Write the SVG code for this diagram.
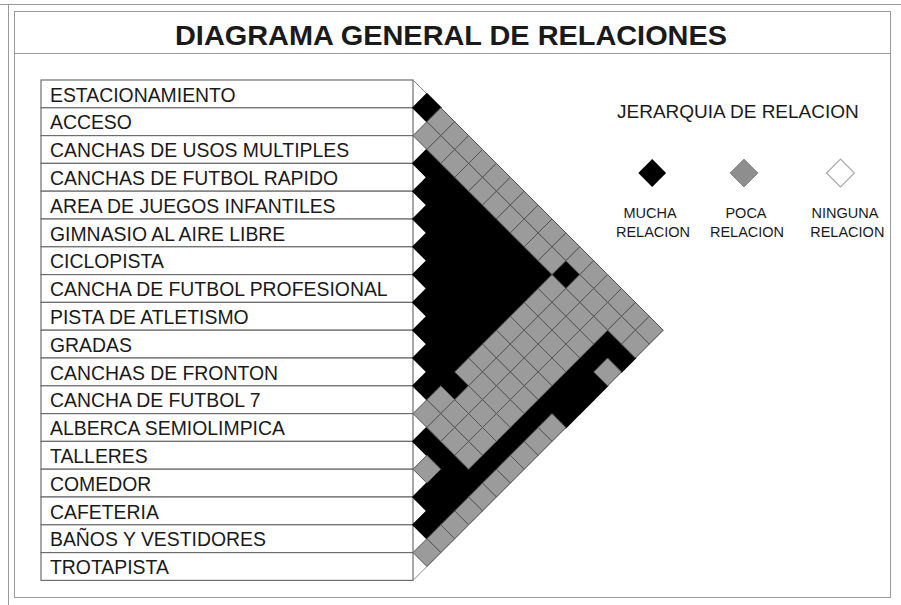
<svg xmlns="http://www.w3.org/2000/svg" xmlns:xlink="http://www.w3.org/1999/xlink" width="901" height="605" viewBox="0 0 901 605">
<style>
.t{font-family:"Liberation Sans",Arial,sans-serif;fill:#1a1a1a}
.lab{font-size:19.4px}
.row{fill:#fff;stroke:#6e6e6e;stroke-width:1.2}
.b{fill:#000;stroke:#000;stroke-width:1.6}
.g{fill:#9b9b9b;stroke:#555;stroke-width:1}
.leg{font-size:14.5px;text-anchor:middle}
</style>
<defs>
<path id="c" d="M-13.9,0L0,-13.9L13.9,0L0,13.9Z"/>
</defs>
<rect width="901" height="605" fill="#fff"/>
<g id="frame" fill="none" stroke="#9a9a9a" stroke-width="1">
<path d="M0,4.5H901M8.5,4.5V605"/>
<rect x="14.5" y="11.5" width="876" height="586"/>
<path d="M14.5,53.5H890.5"/>
</g>
<text id="title" class="t" x="451" y="45" font-size="28.5" font-weight="bold" text-anchor="middle" textLength="552" lengthAdjust="spacingAndGlyphs" fill="#000">DIAGRAMA GENERAL DE RELACIONES</text>
<g id="rows">
<g id="r0"><rect class="row" x="41" y="80" width="372" height="27.8"/><text class="t lab" x="50" y="101.5">ESTACIONAMIENTO</text></g>
<g id="r1"><rect class="row" x="41" y="107.8" width="372" height="27.8"/><text class="t lab" x="50" y="129.3">ACCESO</text></g>
<g id="r2"><rect class="row" x="41" y="135.6" width="372" height="27.8"/><text class="t lab" x="50" y="157.1">CANCHAS DE USOS MULTIPLES</text></g>
<g id="r3"><rect class="row" x="41" y="163.4" width="372" height="27.8"/><text class="t lab" x="50" y="184.9">CANCHAS DE FUTBOL RAPIDO</text></g>
<g id="r4"><rect class="row" x="41" y="191.2" width="372" height="27.8"/><text class="t lab" x="50" y="212.7">AREA DE JUEGOS INFANTILES</text></g>
<g id="r5"><rect class="row" x="41" y="219" width="372" height="27.8"/><text class="t lab" x="50" y="240.5">GIMNASIO AL AIRE LIBRE</text></g>
<g id="r6"><rect class="row" x="41" y="246.8" width="372" height="27.8"/><text class="t lab" x="50" y="268.3">CICLOPISTA</text></g>
<g id="r7"><rect class="row" x="41" y="274.6" width="372" height="27.8"/><text class="t lab" x="50" y="296.1">CANCHA DE FUTBOL PROFESIONAL</text></g>
<g id="r8"><rect class="row" x="41" y="302.4" width="372" height="27.8"/><text class="t lab" x="50" y="323.9">PISTA DE ATLETISMO</text></g>
<g id="r9"><rect class="row" x="41" y="330.2" width="372" height="27.8"/><text class="t lab" x="50" y="351.7">GRADAS</text></g>
<g id="r10"><rect class="row" x="41" y="358" width="372" height="27.8"/><text class="t lab" x="50" y="379.5">CANCHAS DE FRONTON</text></g>
<g id="r11"><rect class="row" x="41" y="385.8" width="372" height="27.8"/><text class="t lab" x="50" y="407.3">CANCHA DE FUTBOL 7</text></g>
<g id="r12"><rect class="row" x="41" y="413.6" width="372" height="27.8"/><text class="t lab" x="50" y="435.1">ALBERCA SEMIOLIMPICA</text></g>
<g id="r13"><rect class="row" x="41" y="441.4" width="372" height="27.8"/><text class="t lab" x="50" y="462.9">TALLERES</text></g>
<g id="r14"><rect class="row" x="41" y="469.2" width="372" height="27.8"/><text class="t lab" x="50" y="490.7">COMEDOR</text></g>
<g id="r15"><rect class="row" x="41" y="497" width="372" height="27.8"/><text class="t lab" x="50" y="518.5">CAFETERIA</text></g>
<g id="r16"><rect class="row" x="41" y="524.8" width="372" height="27.8"/><text class="t lab" x="50" y="546.3">BAÑOS Y VESTIDORES</text></g>
<g id="r17"><rect class="row" x="41" y="552.6" width="372" height="27.8"/><text class="t lab" x="50" y="574.1">TROTAPISTA</text></g>
</g>
<g id="matrix">
<path d="M413,80L663.2,330.2L413,580.4" fill="none" stroke="#8a8a8a" stroke-width="1"/>
<g id="black">
<use xlink:href="#c" class="b" x="426.9" y="107.8"/>
<use xlink:href="#c" class="b" x="565.9" y="274.6"/>
<use xlink:href="#c" class="b" x="426.9" y="163.4"/><use xlink:href="#c" class="b" x="440.8" y="177.3"/><use xlink:href="#c" class="b" x="454.7" y="191.2"/><use xlink:href="#c" class="b" x="468.6" y="205.1"/><use xlink:href="#c" class="b" x="482.5" y="219"/><use xlink:href="#c" class="b" x="496.4" y="232.9"/><use xlink:href="#c" class="b" x="510.3" y="246.8"/><use xlink:href="#c" class="b" x="524.2" y="260.7"/><use xlink:href="#c" class="b" x="538.1" y="274.6"/>
<use xlink:href="#c" class="b" x="426.9" y="191.2"/><use xlink:href="#c" class="b" x="440.8" y="205.1"/><use xlink:href="#c" class="b" x="454.7" y="219"/><use xlink:href="#c" class="b" x="468.6" y="232.9"/><use xlink:href="#c" class="b" x="482.5" y="246.8"/><use xlink:href="#c" class="b" x="496.4" y="260.7"/><use xlink:href="#c" class="b" x="510.3" y="274.6"/><use xlink:href="#c" class="b" x="524.2" y="288.5"/>
<use xlink:href="#c" class="b" x="426.9" y="219"/><use xlink:href="#c" class="b" x="440.8" y="232.9"/><use xlink:href="#c" class="b" x="454.7" y="246.8"/><use xlink:href="#c" class="b" x="468.6" y="260.7"/><use xlink:href="#c" class="b" x="482.5" y="274.6"/><use xlink:href="#c" class="b" x="496.4" y="288.5"/><use xlink:href="#c" class="b" x="510.3" y="302.4"/>
<use xlink:href="#c" class="b" x="426.9" y="246.8"/><use xlink:href="#c" class="b" x="440.8" y="260.7"/><use xlink:href="#c" class="b" x="454.7" y="274.6"/><use xlink:href="#c" class="b" x="468.6" y="288.5"/><use xlink:href="#c" class="b" x="482.5" y="302.4"/><use xlink:href="#c" class="b" x="496.4" y="316.3"/>
<use xlink:href="#c" class="b" x="426.9" y="274.6"/><use xlink:href="#c" class="b" x="440.8" y="288.5"/><use xlink:href="#c" class="b" x="454.7" y="302.4"/><use xlink:href="#c" class="b" x="468.6" y="316.3"/><use xlink:href="#c" class="b" x="482.5" y="330.2"/>
<use xlink:href="#c" class="b" x="426.9" y="302.4"/><use xlink:href="#c" class="b" x="440.8" y="316.3"/><use xlink:href="#c" class="b" x="454.7" y="330.2"/><use xlink:href="#c" class="b" x="468.6" y="344.1"/>
<use xlink:href="#c" class="b" x="426.9" y="330.2"/><use xlink:href="#c" class="b" x="440.8" y="344.1"/><use xlink:href="#c" class="b" x="454.7" y="358"/>
<use xlink:href="#c" class="b" x="426.9" y="358"/><use xlink:href="#c" class="b" x="440.8" y="371.9"/><use xlink:href="#c" class="b" x="454.7" y="385.8"/>
<use xlink:href="#c" class="b" x="426.9" y="385.8"/>
<use xlink:href="#c" class="b" x="607.6" y="344.1"/><use xlink:href="#c" class="b" x="621.5" y="358"/><use xlink:href="#c" class="b" x="593.7" y="358"/><use xlink:href="#c" class="b" x="579.8" y="371.9"/><use xlink:href="#c" class="b" x="593.7" y="385.8"/><use xlink:href="#c" class="b" x="565.9" y="385.8"/><use xlink:href="#c" class="b" x="579.8" y="399.7"/><use xlink:href="#c" class="b" x="552" y="399.7"/><use xlink:href="#c" class="b" x="565.9" y="413.6"/><use xlink:href="#c" class="b" x="538.1" y="413.6"/><use xlink:href="#c" class="b" x="524.2" y="427.5"/><use xlink:href="#c" class="b" x="510.3" y="441.4"/><use xlink:href="#c" class="b" x="496.4" y="455.3"/><use xlink:href="#c" class="b" x="482.5" y="469.2"/>
<use xlink:href="#c" class="b" x="426.9" y="441.4"/><use xlink:href="#c" class="b" x="440.8" y="455.3"/><use xlink:href="#c" class="b" x="454.7" y="469.2"/><use xlink:href="#c" class="b" x="468.6" y="483.1"/>
<use xlink:href="#c" class="b" x="440.8" y="483.1"/><use xlink:href="#c" class="b" x="454.7" y="497"/>
<use xlink:href="#c" class="b" x="426.9" y="497"/><use xlink:href="#c" class="b" x="440.8" y="510.9"/>
<use xlink:href="#c" class="b" x="426.9" y="524.8"/>
</g>
<g id="gray">
<use xlink:href="#c" class="g" x="440.8" y="121.7"/><use xlink:href="#c" class="g" x="454.7" y="135.6"/><use xlink:href="#c" class="g" x="468.6" y="149.5"/><use xlink:href="#c" class="g" x="482.5" y="163.4"/><use xlink:href="#c" class="g" x="496.4" y="177.3"/><use xlink:href="#c" class="g" x="510.3" y="191.2"/><use xlink:href="#c" class="g" x="524.2" y="205.1"/><use xlink:href="#c" class="g" x="538.1" y="219"/><use xlink:href="#c" class="g" x="552" y="232.9"/><use xlink:href="#c" class="g" x="565.9" y="246.8"/><use xlink:href="#c" class="g" x="579.8" y="260.7"/><use xlink:href="#c" class="g" x="593.7" y="274.6"/><use xlink:href="#c" class="g" x="607.6" y="288.5"/><use xlink:href="#c" class="g" x="621.5" y="302.4"/><use xlink:href="#c" class="g" x="635.4" y="316.3"/><use xlink:href="#c" class="g" x="649.3" y="330.2"/>
<use xlink:href="#c" class="g" x="426.9" y="135.6"/><use xlink:href="#c" class="g" x="440.8" y="149.5"/><use xlink:href="#c" class="g" x="454.7" y="163.4"/><use xlink:href="#c" class="g" x="468.6" y="177.3"/><use xlink:href="#c" class="g" x="482.5" y="191.2"/><use xlink:href="#c" class="g" x="496.4" y="205.1"/><use xlink:href="#c" class="g" x="510.3" y="219"/><use xlink:href="#c" class="g" x="524.2" y="232.9"/><use xlink:href="#c" class="g" x="538.1" y="246.8"/><use xlink:href="#c" class="g" x="552" y="260.7"/><use xlink:href="#c" class="g" x="579.8" y="288.5"/><use xlink:href="#c" class="g" x="593.7" y="302.4"/><use xlink:href="#c" class="g" x="607.6" y="316.3"/><use xlink:href="#c" class="g" x="621.5" y="330.2"/><use xlink:href="#c" class="g" x="635.4" y="344.1"/>
<use xlink:href="#c" class="g" x="552" y="288.5"/><use xlink:href="#c" class="g" x="565.9" y="302.4"/><use xlink:href="#c" class="g" x="579.8" y="316.3"/><use xlink:href="#c" class="g" x="593.7" y="330.2"/>
<use xlink:href="#c" class="g" x="538.1" y="302.4"/><use xlink:href="#c" class="g" x="552" y="316.3"/><use xlink:href="#c" class="g" x="565.9" y="330.2"/><use xlink:href="#c" class="g" x="579.8" y="344.1"/><use xlink:href="#c" class="g" x="607.6" y="371.9"/>
<use xlink:href="#c" class="g" x="524.2" y="316.3"/><use xlink:href="#c" class="g" x="538.1" y="330.2"/><use xlink:href="#c" class="g" x="552" y="344.1"/><use xlink:href="#c" class="g" x="565.9" y="358"/>
<use xlink:href="#c" class="g" x="510.3" y="330.2"/><use xlink:href="#c" class="g" x="524.2" y="344.1"/><use xlink:href="#c" class="g" x="538.1" y="358"/><use xlink:href="#c" class="g" x="552" y="371.9"/>
<use xlink:href="#c" class="g" x="496.4" y="344.1"/><use xlink:href="#c" class="g" x="510.3" y="358"/><use xlink:href="#c" class="g" x="524.2" y="371.9"/><use xlink:href="#c" class="g" x="538.1" y="385.8"/>
<use xlink:href="#c" class="g" x="482.5" y="358"/><use xlink:href="#c" class="g" x="496.4" y="371.9"/><use xlink:href="#c" class="g" x="510.3" y="385.8"/><use xlink:href="#c" class="g" x="524.2" y="399.7"/><use xlink:href="#c" class="g" x="552" y="427.5"/>
<use xlink:href="#c" class="g" x="468.6" y="371.9"/><use xlink:href="#c" class="g" x="482.5" y="385.8"/><use xlink:href="#c" class="g" x="496.4" y="399.7"/><use xlink:href="#c" class="g" x="510.3" y="413.6"/><use xlink:href="#c" class="g" x="538.1" y="441.4"/>
<use xlink:href="#c" class="g" x="468.6" y="399.7"/><use xlink:href="#c" class="g" x="482.5" y="413.6"/><use xlink:href="#c" class="g" x="496.4" y="427.5"/><use xlink:href="#c" class="g" x="524.2" y="455.3"/>
<use xlink:href="#c" class="g" x="440.8" y="399.7"/><use xlink:href="#c" class="g" x="454.7" y="413.6"/><use xlink:href="#c" class="g" x="468.6" y="427.5"/><use xlink:href="#c" class="g" x="482.5" y="441.4"/><use xlink:href="#c" class="g" x="510.3" y="469.2"/>
<use xlink:href="#c" class="g" x="426.9" y="413.6"/><use xlink:href="#c" class="g" x="440.8" y="427.5"/><use xlink:href="#c" class="g" x="454.7" y="441.4"/><use xlink:href="#c" class="g" x="468.6" y="455.3"/><use xlink:href="#c" class="g" x="496.4" y="483.1"/>
<use xlink:href="#c" class="g" x="482.5" y="497"/>
<use xlink:href="#c" class="g" x="426.9" y="469.2"/><use xlink:href="#c" class="g" x="468.6" y="510.9"/>
<use xlink:href="#c" class="g" x="454.7" y="524.8"/>
<use xlink:href="#c" class="g" x="440.8" y="538.7"/>
<use xlink:href="#c" class="g" x="426.9" y="552.6"/>
</g>
</g>
<g id="legend">
<text class="t" x="617" y="118.3" font-size="19">JERARQUIA DE RELACION</text>
<g id="leg-mucha"><use xlink:href="#c" x="652.2" y="173" fill="#000"/><text class="t leg" x="650" y="218.3">MUCHA</text><text class="t leg" x="653" y="236.7">RELACION</text></g>
<g id="leg-poca"><use xlink:href="#c" x="744" y="173" fill="#8e8e8e" stroke="#888" stroke-width="1"/><text class="t leg" x="746" y="218.3">POCA</text><text class="t leg" x="747" y="236.7">RELACION</text></g>
<g id="leg-ninguna"><use xlink:href="#c" x="840.5" y="173" fill="#fff" stroke="#aaa" stroke-width="1.2"/><text class="t leg" x="845" y="218.3">NINGUNA</text><text class="t leg" x="847.3" y="236.7">RELACION</text></g>
</g>
</svg>
